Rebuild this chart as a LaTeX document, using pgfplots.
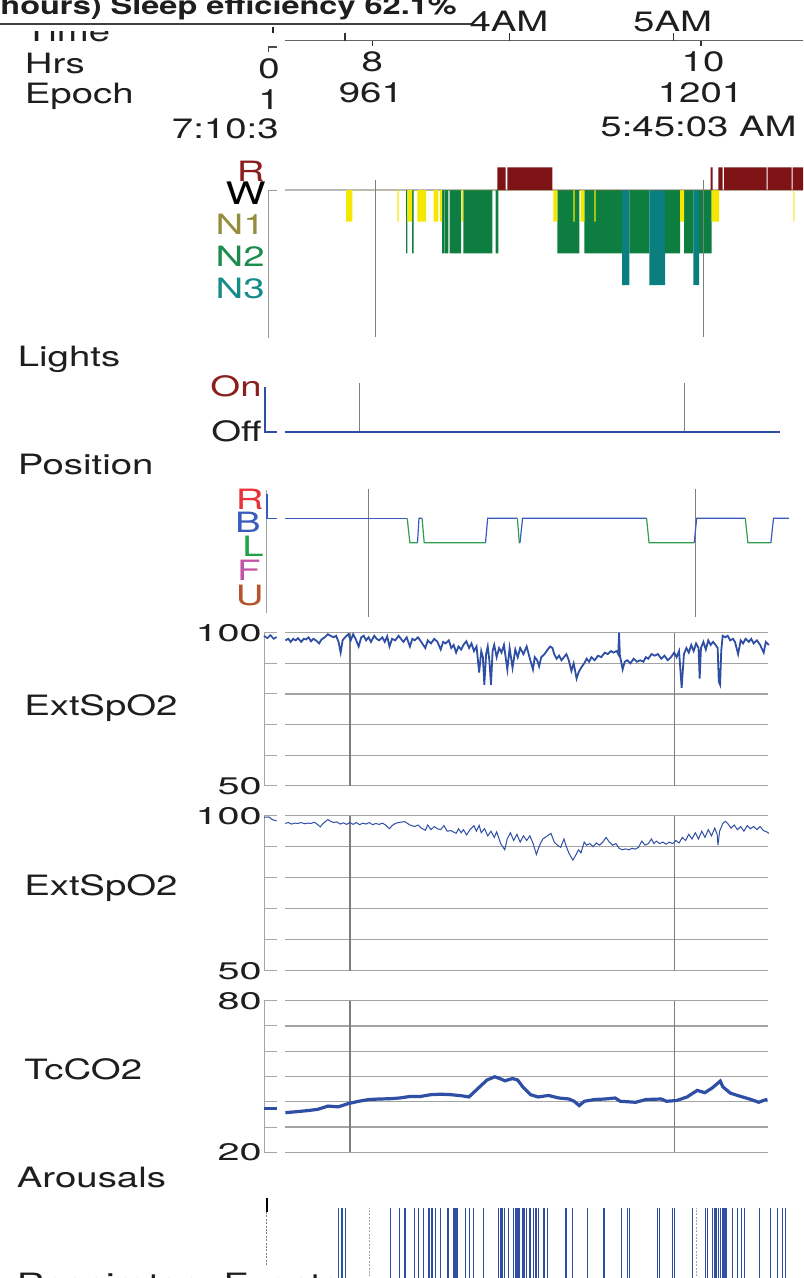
\documentclass[border=0pt]{standalone}
\usepackage{fontspec}
\setmainfont{TeX Gyre Heros}
\usepackage{graphicx}
\usepackage{pgfplots}
\pgfplotsset{compat=1.18}

\definecolor{txt}{HTML}{1E1E1E}
\definecolor{trace}{HTML}{2F4FA5}
\definecolor{gridc}{HTML}{A3A3A3}
\definecolor{vline}{HTML}{7E7E7E}
\definecolor{remc}{HTML}{7D1315}
\definecolor{nonec}{HTML}{F4E800}
\definecolor{ntwoc}{HTML}{0E7D40}
\definecolor{nthreec}{HTML}{0B7F7F}
\definecolor{labR}{HTML}{8B1E1E}
\definecolor{labNone}{HTML}{948E3C}
\definecolor{labNtwo}{HTML}{1C8C4C}
\definecolor{labNthree}{HTML}{178A8A}
\definecolor{posR}{HTML}{E8333A}
\definecolor{posB}{HTML}{3A5BBE}
\definecolor{posL}{HTML}{1FA248}
\definecolor{posF}{HTML}{C452A6}
\definecolor{posU}{HTML}{B5532A}
\definecolor{posgreen}{HTML}{2E9E4E}

% the report is stretched sideways
\newcommand{\wide}[1]{\scalebox{1.37}[1]{#1}}
\newcommand{\tlab}[1]{{\fontsize{12pt}{12pt}\selectfont\scalebox{1.65}[1]{#1}}}

\pgfplotsset{
  panel/.style={scale only axis, clip=false, anchor=south west,
    axis lines=none, no markers},
  vaxis/.style={scale only axis, clip=false, anchor=south west, no markers,
    axis x line=none, axis y line*=left,
    axis line style={gray!70, line width=0.5pt},
    tick align=inside, major tick length=6.3pt,
    ytick style={gray!70, line width=0.5pt},
    yticklabel style={anchor=east, inner sep=1pt, text=txt}},
}

\begin{document}
\begin{tikzpicture}[every node/.append style={font=\fontsize{14pt}{16pt}\selectfont, text=txt}]
\useasboundingbox (0,0) rectangle (401.5pt,-639pt);

% ---------- time axis ----------
\begin{axis}[panel, at={(142.5pt,-20.35pt)}, width=259pt, height=5pt,
  xmin=7.4677, xmax=10.6224, ymin=0, ymax=1]
\draw[black!60, line width=0.8pt] (axis cs:7.4677,0) -- (axis cs:10.6224,0);
\pgfplotsinvokeforeach{7.8333,8.8333,9.8333}{
  \draw[black!80, line width=0.7pt] (axis cs:#1,0) -- ++(0pt,3.9pt);}
\pgfplotsinvokeforeach{8,10}{
  \draw[black!80, line width=0.7pt] (axis cs:#1,0) -- ++(0pt,-2.7pt);}
\end{axis}

% ---------- hypnogram ----------
\begin{axis}[panel, at={(134pt,-169pt)}, width=267.5pt, height=89pt,
  xmin=7.3465, xmax=10.6048, ymin=-4.6688, ymax=0.9464]
\draw[gray!55, line width=0.6pt] (axis cs:7.451,0) -- (axis cs:10.6048,0);
\draw[gray!80, line width=0.5pt] (axis cs:7.3465,0) -- (axis cs:7.3465,-4.6688);
\draw[gray!80, line width=0.5pt] (axis cs:7.3465,0) -- ++(4.5pt,0pt);
\addplot[ybar interval, fill=ntwoc, draw=none] coordinates {
 (8.187,-2)(8.1949,0)(8.2235,-2)(8.2339,0)(8.4062,-2)(8.4184,0)(8.4227,-2)(8.4446,0)
 (8.4531,-2)(8.5219,0)(8.5359,-2)(8.7126,0)(8.7333,-2)(8.7491,0)(9.1084,-2)(9.2424,0)
 (9.2728,-2)(9.5024,0)(9.5469,-2)(9.6687,0)(9.7643,-2)(9.8557,0)(9.8801,-2)(9.9367,0)
 (9.9714,-2)(10.0487,0)};
\addplot[ybar interval, fill=nthreec, draw=none] coordinates {
 (9.5024,-3)(9.5469,0)(9.6687,-3)(9.7643,0)(9.9367,-3)(9.9714,0)};
\addplot[ybar interval, fill=nonec, draw=none] coordinates {
 (7.8216,-1)(7.8599,0)(8.134,-1)(8.1425,0)(8.1949,-1)(8.2235,0)(8.2558,-1)(8.3088,0)
 (8.3557,-1)(8.3837,0)(8.3940,-1)(8.4062,0)(8.5262,-1)(8.5341,0)(9.0840,-1)(9.1084,0)
 (9.2058,-1)(9.2144,0)(9.2509,-1)(9.2728,0)(9.3337,-1)(9.3423,0)(9.8557,-1)(9.8801,0)
 (10.0487,-1)(10.0932,0)(10.5457,-1)(10.5518,0)};
\addplot[ybar interval, fill=remc, draw=none] coordinates {
 (8.743,0.716)(8.794,0)(8.8039,0.716)(9.0780,0)(10.0426,0.716)(10.0548,0)
 (10.0889,0.716)(10.1157,0)(10.1236,0.716)(10.3837,0)(10.3898,0.716)(10.5359,0)
 (10.5420,0.716)(10.6048,0)};
\draw[vline, line width=0.6pt] (axis cs:8,0.315) -- (axis cs:8,-4.637);
\draw[vline, line width=0.6pt] (axis cs:10,0.315) -- (axis cs:10,-4.637);
\end{axis}

% ---------- lights ----------
\begin{axis}[panel, at={(132.5pt,-217.125pt)}, width=262.5pt, height=25.625pt,
  xmin=7.4175, xmax=10.6502, ymin=-0.05, ymax=1.089]
\draw[vline, line width=0.5pt] (axis cs:8,0) -- (axis cs:8,1.089);
\draw[vline, line width=0.5pt] (axis cs:10,0) -- (axis cs:10,1.089);
\addplot[trace, line width=0.6pt] coordinates {(7.4175,1)(7.4175,0)(7.489,0)};
\addplot[trace, line width=0.6pt] coordinates {(7.5425,0)(10.590,0)};
\end{axis}

% ---------- position ----------
\begin{axis}[panel, at={(133.2pt,-306.65pt)}, width=266.8pt, height=61.65pt,
  xmin=7.3718, xmax=10.6424, ymin=-0.893, ymax=4.16]
\draw[gray!75, line width=0.5pt] (axis cs:7.3718,-0.893) -- (axis cs:7.3718,4.16);
\draw[vline, line width=0.5pt] (axis cs:8,-1.03) -- (axis cs:8,4.2);
\draw[vline, line width=0.5pt] (axis cs:10,-1.03) -- (axis cs:10,4.2);
\addplot[posB, line width=0.6pt] coordinates {(7.375,4)(7.375,3)(7.4343,3)};
\addplot[posB, line width=0.6pt] coordinates {(7.488,3)(8.235,3)};
\addplot[posgreen, line width=0.6pt] coordinates {(8.235,3)(8.251,2)(8.298,2)};
\addplot[posB, line width=0.6pt] coordinates {(8.298,2)(8.307,3)(8.326,3)};
\addplot[posgreen, line width=0.6pt] coordinates {(8.326,3)(8.339,2)(8.715,2)};
\addplot[posB, line width=0.6pt] coordinates {(8.715,2)(8.728,3)(8.910,3)};
\addplot[posgreen, line width=0.6pt] coordinates {(8.910,3)(8.922,2)(8.926,2)};
\addplot[posB, line width=0.6pt] coordinates {(8.926,2)(8.942,3)(9.702,3)};
\addplot[posgreen, line width=0.6pt] coordinates {(9.702,3)(9.717,2)(9.994,2)};
\addplot[posB, line width=0.6pt] coordinates {(9.994,2)(10.009,3)(10.307,3)};
\addplot[posgreen, line width=0.6pt] coordinates {(10.307,3)(10.323,2)(10.464,2)};
\addplot[posB, line width=0.6pt] coordinates {(10.464,2)(10.480,3)(10.574,3)};
\end{axis}

% ---------- ExtSpO2 (1) ----------
\begin{axis}[vaxis, at={(132pt,-392.85pt)}, width=252.2pt, height=76.5pt,
  xmin=7.4702, xmax=10.581, ymin=50, ymax=100,
  ytick={50,60,...,100}, yticklabels={\tlab{50},,,,,\tlab{100}}]
\pgfplotsinvokeforeach{50,60,70,80,90,100}{
  \draw[gridc, line width=0.6pt] (axis cs:7.6022,#1) -- (axis cs:10.581,#1);}
\draw[vline, line width=0.6pt] (axis cs:8,50) -- (axis cs:8,100);
\draw[vline, line width=0.6pt] (axis cs:10,50) -- (axis cs:10,100);
\addplot[trace, line width=0.8pt] coordinates {(7.47,99)(7.49,98.2)(7.51,99.2)(7.53,98)(7.548,98.6)};
\addplot[trace, line width=0.9pt] coordinates {
 (7.602,97.5)(7.62,98)(7.635,97)(7.65,98)(7.665,97.5)(7.68,98.2)(7.70,97)(7.715,98)
 (7.73,97.8)(7.745,98.5)(7.76,97.2)(7.775,98)(7.79,97.5)(7.81,96.5)(7.825,97.8)(7.845,98.5)
 (7.864,99.5)(7.88,99)(7.90,98.5)(7.915,99)(7.93,97)(7.943,93.5)(7.955,97.5)(7.97,98.5)
 (7.99,99.5)(8.005,97.5)(8.02,99.5)(8.035,98)(8.054,95.5)(8.07,98.5)(8.085,99)(8.10,97.5)
 (8.115,98.5)(8.13,97)(8.15,99)(8.165,98)(8.18,97.5)(8.20,98.5)(8.215,97)(8.23,98.8)
 (8.244,95.5)(8.26,98)(8.28,97.5)(8.30,99)(8.315,98)(8.33,97)(8.35,98.5)(8.37,95.5)
 (8.385,98)(8.40,97.5)(8.42,98.5)(8.44,97)(8.465,95)(8.48,97.5)(8.50,96.5)(8.52,98)
 (8.54,97)(8.56,94.5)(8.575,97)(8.59,96.5)(8.61,97.5)(8.625,95)(8.64,96)(8.655,93.5)
 (8.67,95.5)(8.686,94.5)(8.70,96)(8.718,97.2)(8.735,95)(8.75,96.5)(8.765,94)(8.781,95.5)
 (8.797,87)(8.81,94)(8.82,92)(8.829,83)(8.84,93)(8.85,95.5)(8.86,91)(8.870,83)
 (8.88,94)(8.89,96)(8.905,92)(8.92,95)(8.935,93.5)(8.95,96)(8.971,88)(8.985,95)
 (9.003,88.5)(9.02,94.5)(9.035,92)(9.05,95)(9.07,93)(9.09,95.5)(9.11,91.5)(9.129,88)
 (9.14,92)(9.155,91)(9.167,89)(9.18,92)(9.20,93)(9.22,94.5)(9.235,95.5)(9.249,95)
 (9.26,93)(9.275,91.5)(9.29,92.5)(9.305,91)(9.32,92)(9.335,93)(9.350,91)(9.366,87.5)
 (9.38,90)(9.398,85)(9.41,87)(9.425,88.5)(9.445,90)(9.46,91.5)(9.475,90.5)(9.49,92)
 (9.51,91)(9.53,92.5)(9.55,92)(9.572,93.5)(9.59,93)(9.61,94)(9.625,93.5)(9.645,94)
 (9.655,93)(9.660,100)(9.665,92.5)(9.675,90)(9.682,88)(9.695,90.5)(9.71,91)(9.73,90)
 (9.75,91.5)(9.77,90.5)(9.79,91)(9.81,90.5)(9.825,92)(9.84,91.5)(9.86,93)(9.88,92.5)
 (9.90,93)(9.92,91.5)(9.94,92.5)(9.96,91)(9.98,92)(10.00,93.5)(10.015,92)(10.03,94)
 (10.046,82)(10.06,93)(10.075,95)(10.09,93.5)(10.105,96)(10.12,94)(10.135,96.5)(10.150,95)
 (10.157,85)(10.165,95)(10.18,97)(10.195,94.5)(10.21,97.5)(10.225,96)(10.24,97)(10.255,96)
 (10.268,95)(10.275,84)(10.283,83)(10.29,94)(10.299,99)(10.315,98.5)(10.33,99)(10.345,97.5)
 (10.362,98)(10.375,97)(10.394,93)(10.41,97.5)(10.425,96.5)(10.44,98)(10.46,97)(10.475,98)
 (10.49,96.5)(10.51,97.5)(10.53,96)(10.552,93.5)(10.565,97)(10.584,96)};
\end{axis}

% ---------- ExtSpO2 (2) ----------
\begin{axis}[vaxis, at={(132pt,-485.35pt)}, width=252.2pt, height=77.5pt,
  xmin=7.4702, xmax=10.581, ymin=50, ymax=100,
  ytick={50,60,...,100}, yticklabels={\tlab{50},,,,,\tlab{100}}]
\pgfplotsinvokeforeach{50,60,70,80,90,100}{
  \draw[gridc, line width=0.6pt] (axis cs:7.6022,#1) -- (axis cs:10.581,#1);}
\draw[vline, line width=0.6pt] (axis cs:8,50) -- (axis cs:8,100);
\draw[vline, line width=0.6pt] (axis cs:10,50) -- (axis cs:10,100);
\addplot[trace, line width=0.5pt] coordinates {(7.47,99.5)(7.50,99.6)(7.52,98.8)(7.548,98.3)};
\addplot[trace, line width=0.5pt] coordinates {
 (7.602,97.5)(7.62,97.8)(7.64,97.3)(7.66,97.6)(7.68,97.5)(7.70,97.8)(7.72,97.4)(7.74,97.6)
 (7.76,97.5)(7.78,97.9)(7.80,97.2)(7.817,96.4)(7.835,97.5)(7.864,98.8)(7.88,98.2)(7.90,97.8)
 (7.92,98)(7.94,97.3)(7.96,97.7)(7.98,97.2)(8.00,97.8)(8.02,97.2)(8.04,97.8)(8.06,97.1)
 (8.08,97.6)(8.10,97.3)(8.12,97.8)(8.14,97.1)(8.16,97.5)(8.18,97.2)(8.20,97.6)(8.22,97.0)
 (8.244,95.8)(8.26,96.8)(8.28,97.5)(8.30,97.8)(8.338,98.1)(8.37,97.0)(8.40,96.5)(8.42,97.0)
 (8.44,96.0)(8.465,95.3)(8.48,97.0)(8.50,95.5)(8.52,96.5)(8.54,95.8)(8.56,95.5)(8.58,96.8)
 (8.60,95.0)(8.623,95.2)(8.655,94.3)(8.67,95.8)(8.686,94.5)(8.70,95.5)(8.72,93.8)(8.74,95.5)
 (8.765,96.8)(8.78,95)(8.797,96.9)(8.81,94.5)(8.83,95.8)(8.85,93.5)(8.87,95)(8.89,93)
 (8.905,94.8)(8.93,91)(8.955,89)(8.97,92.5)(8.99,94.5)(9.01,92)(9.03,94)(9.05,91.5)
 (9.07,93.5)(9.09,92)(9.11,93.5)(9.13,91)(9.150,87.5)(9.17,90.5)(9.19,92.5)(9.24,94.3)
 (9.26,91.5)(9.28,90.5)(9.30,89.8)(9.32,92.5)(9.335,90)(9.350,88)(9.366,86.5)(9.375,85.7)
 (9.39,87)(9.41,89)(9.425,88)(9.445,91.5)(9.46,90.5)(9.48,91)(9.50,90)(9.52,91.2)
 (9.54,90.5)(9.56,91.5)(9.58,93)(9.60,91.5)(9.62,90.5)(9.64,91)(9.66,89.5)(9.68,89)
 (9.70,89.3)(9.72,89)(9.74,89.5)(9.76,89.2)(9.78,89.8)(9.80,91.8)(9.82,90.5)(9.84,91)
 (9.86,92.5)(9.875,91)(9.89,91.8)(9.91,91)(9.93,91.5)(9.95,90.8)(9.97,91.5)(9.99,91)
 (10.01,92)(10.03,91.2)(10.05,93)(10.07,92)(10.09,94)(10.11,92.5)(10.13,94.5)(10.15,92.5)
 (10.17,95)(10.19,93)(10.21,95.5)(10.23,93.5)(10.25,96)(10.265,94)(10.27,90.5)(10.28,95)
 (10.30,97.5)(10.315,98.2)(10.33,97.5)(10.35,96)(10.37,97)(10.39,95.5)(10.41,96.5)(10.43,95)
 (10.45,96.8)(10.47,95.8)(10.49,96.5)(10.51,95.5)(10.53,96.5)(10.55,95.2)(10.57,94.8)(10.584,94.3)};
\end{axis}

% ---------- TcCO2 ----------
\begin{axis}[vaxis, at={(132pt,-576.15pt)}, width=252.2pt, height=75.8pt,
  xmin=7.4702, xmax=10.581, ymin=20, ymax=80,
  ytick={20,30,...,80}, yticklabels={\tlab{20},,,,,,\tlab{80}}]
\pgfplotsinvokeforeach{20,30,40,50,60,70,80}{
  \draw[gridc, line width=0.6pt] (axis cs:7.6022,#1) -- (axis cs:10.581,#1);}
\draw[vline, line width=0.6pt] (axis cs:8,20) -- (axis cs:8,80);
\draw[vline, line width=0.6pt] (axis cs:10,20) -- (axis cs:10,80);
\addplot[trace, line width=1.6pt] coordinates {(7.47,37.4)(7.548,37.4)};
\addplot[trace, line width=1.6pt] coordinates {
 (7.602,35.7)(7.675,36.1)(7.738,36.5)(7.801,37.0)(7.865,38.3)(7.928,38.0)(7.991,39.3)
 (8.054,40.2)(8.118,40.9)(8.181,41.1)(8.244,41.2)(8.307,41.5)(8.371,42.1)(8.434,42.1)
 (8.497,42.8)(8.560,43.0)(8.624,42.8)(8.687,42.4)(8.734,41.9)(8.782,44.8)(8.845,48.6)
 (8.893,49.9)(8.924,49.2)(8.956,48.3)(9.003,49.2)(9.035,48.6)(9.066,45.9)(9.114,42.8)
 (9.161,41.9)(9.225,42.5)(9.288,41.5)(9.351,41.1)(9.383,40.2)(9.414,38.5)(9.446,40.2)
 (9.509,40.9)(9.573,41.1)(9.636,41.5)(9.667,40.2)(9.762,39.8)(9.826,40.9)(9.920,41.1)
 (9.952,40.2)(10.015,40.5)(10.079,41.9)(10.142,44.5)(10.189,43.6)(10.237,45.6)(10.284,48.2)
 (10.300,45.9)(10.347,43.4)(10.411,42.1)(10.474,40.9)(10.521,39.8)(10.553,40.6)(10.575,40.9)};
\end{axis}

% ---------- arousals ----------
\begin{axis}[panel, at={(133.35pt,-645pt)}, width=266.65pt, height=41pt,
  xmin=7.3724, xmax=10.6319, ymin=0, ymax=1]
\draw[gray!70, line width=0.6pt, dash pattern=on 1pt off 0.7pt] (axis cs:8,0) -- (axis cs:8,1);
\draw[gray!70, line width=0.6pt, dash pattern=on 1pt off 0.7pt] (axis cs:10,0) -- (axis cs:10,1);
\addplot[ycomb, trace, line width=0.55pt] coordinates {
 (7.8117,1)(7.8325,1)(7.8546,1)(8.1288,1)(8.1840,1)(8.2147,1)(8.2227,1)(8.2742,1)
 (8.2988,1)(8.3294,1)(8.3601,1)(8.3681,1)(8.3785,1)(8.3883,1)(8.4049,1)(8.4356,1)
 (8.4804,1)(8.5135,1)(8.5233,1)(8.5356,1)(8.5890,1)(8.6117,1)(8.6362,1)(8.6994,1)
 (8.7896,1)(8.7994,1)(8.8080,1)(8.8160,1)(8.8264,1)(8.8485,1)(8.8816,1)(8.8914,1)
 (8.9018,1)(8.9080,1)(8.9184,1)(8.9387,1)(8.9491,1)(8.9613,1)(8.9773,1)(8.9859,1)
 (9.0018,1)(9.0184,1)(9.0350,1)(9.0656,1)(9.0718,1)(9.0877,1)(9.1963,1)(9.2025,1)
 (9.2393,1)(9.3313,1)(9.4337,1)(9.5399,1)(9.5748,1)(9.5908,1)(9.7607,1)(9.7748,1)
 (9.8528,1)(9.8669,1)(9.9755,1)(10.0552,1)(10.0675,1)(10.0963,1)(10.1086,1)(10.1184,1)
 (10.1331,1)(10.1472,1)(10.1577,1)(10.1675,1)(10.1798,1)(10.2209,1)(10.2515,1)(10.2761,1)
 (10.2902,1)(10.3822,1)(10.4521,1)(10.4969,1)(10.5276,1)(10.5417,1)};
\end{axis}

% ---------- texts, in pixels of the report ----------
\begin{scope}[x=0.5pt, y=-0.5pt]
\begin{scope}
\clip (0,31.7) rectangle (262,60);
\node[anchor=base west, inner sep=0] at (24.5,41.7) {\wide{Time}};
\end{scope}
\node[anchor=base west, inner sep=0] at (0,15) {\fontsize{12.5pt}{14pt}\selectfont\bfseries\scalebox{1.3}[1]{hours) Sleep efficiency 62.1\%}};
\draw[black!75, line width=1pt] (0,24) -- (471,24);
\draw[black!85, line width=1.1pt] (272.7,26.7) -- (272.7,33.3);
\draw[black!70, line width=0.6pt] (268.5,52) -- (268.5,47) -- (277,47);
\node[anchor=base] at (509,32) {\wide{4AM}};
\node[anchor=base] at (672.6,32) {\wide{5AM}};
\node[anchor=base west, inner sep=0] at (24.5,73.3) {\wide{Hrs}};
\node[anchor=base west, inner sep=0] at (24.5,103.3) {\wide{Epoch}};
\node[anchor=base east, inner sep=0] at (280,78.3) {\wide{0}};
\node[anchor=base east, inner sep=0] at (280,110) {\wide{1}};
\node[anchor=base east, inner sep=0] at (279,138.5) {\wide{7:10:3}};
\node[anchor=base, inner sep=0] at (372.4,72) {\wide{8}};
\node[anchor=base, inner sep=0] at (370.9,103) {\wide{961}};
\node[anchor=base, inner sep=0] at (703,72) {\wide{10}};
\node[anchor=base, inner sep=0] at (700.5,103) {\wide{1201}};
\node[anchor=base east, inner sep=0] at (797,137) {\wide{5:45:03 AM}};
% stage names
\node[anchor=base east, inner sep=0, text=labR] at (265,181.7) {\wide{R}};
\node[anchor=base east, inner sep=0, text=black, font=\fontsize{15.5pt}{17pt}\selectfont] at (266,204.5) {\wide{W}};
\node[anchor=base east, inner sep=0, text=labNone] at (265,235) {\wide{N1}};
\node[anchor=base east, inner sep=0, text=labNtwo] at (265,266.7) {\wide{N2}};
\node[anchor=base east, inner sep=0, text=labNthree] at (265,298.3) {\wide{N3}};
% lights
\node[anchor=base west, inner sep=0] at (17.5,366) {\wide{Lights}};
\node[anchor=base east, inner sep=0, text=labR] at (262,396.7) {\wide{On}};
\node[anchor=base east, inner sep=0] at (262,441.7) {\wide{Off}};
% position
\node[anchor=base west, inner sep=0] at (17.5,474.3) {\wide{Position}};
\node[anchor=base east, inner sep=0, text=posR] at (264,509.3) {\wide{R}};
\node[anchor=base east, inner sep=0, text=posB] at (261,532.7) {\wide{B}};
\node[anchor=base east, inner sep=0, text=posL] at (264,556.7) {\wide{L}};
\node[anchor=base east, inner sep=0, text=posF] at (261,580) {\wide{F}};
\node[anchor=base east, inner sep=0, text=posU] at (264,605) {\wide{U}};
% channel names
\node[anchor=base west, inner sep=0] at (24,715.7) {\wide{ExtSpO2}};
\node[anchor=base west, inner sep=0] at (24,895.7) {\wide{ExtSpO2}};
\node[anchor=base west, inner sep=0] at (24,1079) {\wide{TcCO2}};
\node[anchor=base west, inner sep=0] at (16.5,1187) {\wide{Arousals}};
\node[anchor=base west, inner sep=0] at (16.5,1293) {\wide{Respiratory Events}};
% start marker of the arousal row
\draw[black, line width=0.8pt] (266.7,1198) -- (266.7,1212);
\draw[gray, line width=0.5pt, dash pattern=on 1pt off 0.7pt] (266.7,1212) -- (266.7,1265);
\end{scope}
\end{tikzpicture}
\end{document}
